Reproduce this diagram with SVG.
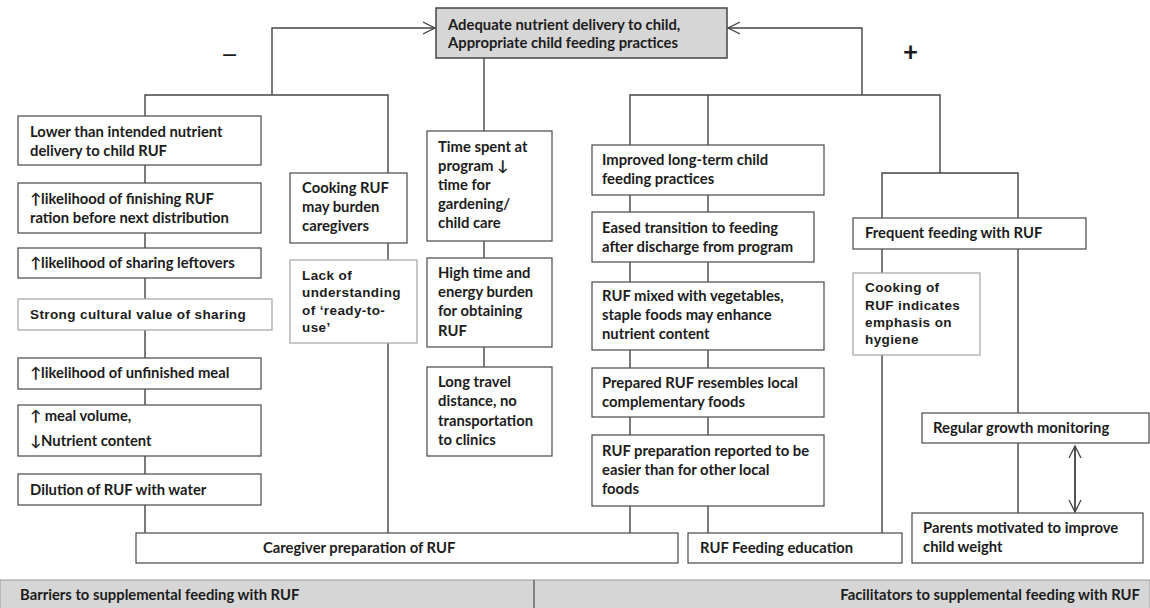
<svg xmlns="http://www.w3.org/2000/svg" width="1150" height="608" viewBox="0 0 1150 608">
<defs>
<style>
.b{fill:#fff;stroke:#555;stroke-width:1.3}
.l{fill:#fff;stroke:#aaa;stroke-width:1.3}
.g{fill:#d6d6d6;stroke:#444;stroke-width:1.5}
.c{fill:none;stroke:#444;stroke-width:1.4}
text{font-family:Lato,"Liberation Sans",sans-serif;font-weight:bold;font-size:14.8px;fill:#1c1c1c}
text.a{font-family:"Liberation Sans",Arial,sans-serif;font-size:13.5px;letter-spacing:0.4px}
</style>
<marker id="ah" markerWidth="14" markerHeight="14" refX="12" refY="7" orient="auto" markerUnits="userSpaceOnUse">
<path d="M0,1 L12,7 L0,13" fill="none" stroke="#444" stroke-width="1.3"/>
</marker>
</defs>
<g id="connectors">
<path class="c" d="M272,95 V28 H435" marker-end="url(#ah)"/>
<path class="c" d="M862,95 V28 H728" marker-end="url(#ah)"/>
<path class="c" d="M145,116 V95 H388 V173"/>
<path class="c" d="M630,145 V95 H940 V173"/>
<path class="c" d="M708,95 V145"/>
<path class="c" d="M882,218 V173 H1018 V218"/>
<path class="c" d="M484,58 V131"/>
<path class="c" d="M145,165 V183 M145,233 V248 M145,278 V299 M145,330 V358 M145,389 V405 M145,456 V474 M145,505 V533"/>
<path class="c" d="M388,243 V260 M388,343 V533"/>
<path class="c" d="M484,241 V258 M484,347 V367"/>
<path class="c" d="M630,195 V212 M630,262 V282 M630,350 V368 M630,417 V435 M630,506 V533"/>
<path class="c" d="M708,195 V212 M708,262 V282 M708,350 V368 M708,417 V435 M708,506 V533"/>
<path class="c" d="M882,249 V273 M882,355 V533"/>
<path class="c" d="M1018,249 V413 M1018,443 V513"/>
<path class="c" d="M1075,512 V446" marker-end="url(#ah)"/>
<path class="c" d="M1075,446 V512" marker-end="url(#ah)"/>
<text x="222" y="61" style="font-size:19px">—</text>
<text x="903" y="61" style="font-size:26px">+</text>
</g>
<g id="top"><rect class="g" x="436" y="8" width="291" height="50"/>
<text x="448" y="30">Adequate nutrient delivery to child,</text>
<text x="448" y="48">Appropriate child feeding practices</text></g>

<g id="n1"><rect class="b" x="18" y="116" width="243" height="49"/>
<text x="30" y="137">Lower than intended nutrient</text><text x="30" y="156">delivery to child RUF</text></g>
<g id="n2"><rect class="b" x="18" y="183" width="243" height="50"/>
<text x="30" y="204">↑likelihood of finishing RUF</text><text x="30" y="223">ration before next  distribution</text></g>
<g id="n3"><rect class="b" x="18" y="248" width="243" height="30"/>
<text x="30" y="268">↑likelihood of sharing leftovers</text></g>
<g id="n4"><rect class="l" x="18" y="299" width="254" height="31"/>
<text class="a" x="30" y="319">Strong cultural value of sharing</text></g>
<g id="n5"><rect class="b" x="18" y="358" width="243" height="31"/>
<text x="30" y="378">↑likelihood of unfinished meal</text></g>
<g id="n6"><rect class="b" x="18" y="405" width="243" height="51"/>
<text x="30" y="421">↑  meal volume,</text><text x="30" y="446">↓Nutrient content</text></g>
<g id="n7"><rect class="b" x="18" y="474" width="243" height="31"/>
<text x="30" y="495">Dilution  of RUF with water</text></g>

<g id="n8"><rect class="b" x="290" y="173" width="117" height="70"/>
<text x="302" y="193">Cooking RUF</text><text x="302" y="212">may burden</text><text x="302" y="231">caregivers</text></g>
<g id="n9"><rect class="l" x="290" y="260" width="127" height="83"/>
<text class="a" x="302" y="280">Lack of</text><text class="a" x="302" y="297">understanding</text><text class="a" x="302" y="315">of ‘ready-to-</text><text class="a" x="302" y="332">use’</text></g>

<g id="n10"><rect class="b" x="427" y="131" width="125" height="110"/>
<text x="438" y="152">Time spent at</text><text x="438" y="171">program ↓</text><text x="438" y="190">time for</text><text x="438" y="209">gardening/</text><text x="438" y="228">child care</text></g>
<g id="n11"><rect class="b" x="427" y="258" width="125" height="89"/>
<text x="438" y="278">High time and</text><text x="438" y="297">energy burden</text><text x="438" y="316">for obtaining</text><text x="438" y="336">RUF</text></g>
<g id="n12"><rect class="b" x="427" y="367" width="125" height="89"/>
<text x="438" y="387">Long travel</text><text x="438" y="406">distance, no</text><text x="438" y="426">transportation</text><text x="438" y="445">to clinics</text></g>

<g id="n13"><rect class="b" x="592" y="145" width="232" height="50"/>
<text x="602" y="165">Improved long-term child</text><text x="602" y="184">feeding practices</text></g>
<g id="n14"><rect class="b" x="592" y="212" width="222" height="50"/>
<text x="602" y="233">Eased transition to feeding</text><text x="602" y="252">after discharge from program</text></g>
<g id="n15"><rect class="b" x="592" y="282" width="232" height="68"/>
<text x="602" y="301">RUF mixed with vegetables,</text><text x="602" y="320">staple foods  may enhance</text><text x="602" y="339">nutrient content</text></g>
<g id="n16"><rect class="b" x="592" y="368" width="232" height="49"/>
<text x="602" y="388">Prepared RUF resembles local</text><text x="602" y="407">complementary foods</text></g>
<g id="n17"><rect class="b" x="592" y="435" width="232" height="71"/>
<text x="602" y="456">RUF preparation reported to be</text><text x="602" y="475">easier than for other local</text><text x="602" y="494">foods</text></g>

<g id="n18"><rect class="b" x="853" y="218" width="233" height="31"/>
<text x="865" y="238">Frequent feeding with RUF</text></g>
<g id="n19"><rect class="l" x="853" y="273" width="127" height="82"/>
<text class="a" x="865" y="292">Cooking of</text><text class="a" x="865" y="310">RUF indicates</text><text class="a" x="865" y="327">emphasis on</text><text class="a" x="865" y="344">hygiene</text></g>
<g id="n20"><rect class="b" x="922" y="413" width="227" height="30"/>
<text x="933" y="433">Regular growth monitoring</text></g>
<g id="n21"><rect class="b" x="912" y="513" width="231" height="50"/>
<text x="923" y="533">Parents motivated to improve</text><text x="923" y="552">child weight</text></g>

<g id="n22"><rect class="b" x="136" y="533" width="542" height="30"/>
<text x="263" y="553">Caregiver preparation of RUF</text></g>
<g id="n23"><rect class="b" x="688" y="533" width="214" height="30"/>
<text x="700" y="553">RUF Feeding education</text></g>

<g id="legend"><rect x="0" y="580" width="1150" height="30" fill="#d6d6d6" stroke="#999" stroke-width="1"/>
<line x1="534" y1="580" x2="534" y2="608" stroke="#555" stroke-width="1.3"/>
<text x="20" y="600">Barriers to supplemental feeding with RUF</text>
<text x="1140" y="600" text-anchor="end">Facilitators to supplemental feeding with RUF</text></g>
</svg>
